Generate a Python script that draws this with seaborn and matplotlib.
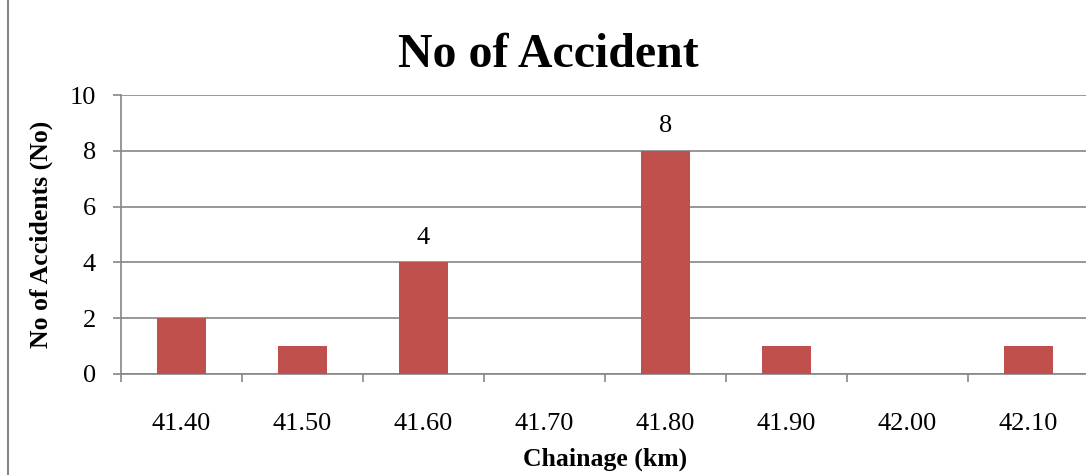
import matplotlib
matplotlib.use("Agg")
import matplotlib.pyplot as plt
from matplotlib.lines import Line2D
import seaborn as sns
import pandas as pd

chainage = ["41.40", "41.50", "41.60", "41.70", "41.80", "41.90", "42.00", "42.10"]
accidents = [2, 1, 4, 0, 8, 1, 0, 1]
labelled = {"41.60": 4, "41.80": 8}
y_ticks = [0, 2, 4, 6, 8, 10]

sns.set_style("white")
plt.rcParams["font.family"] = ["Liberation Serif", "DejaVu Serif"]
plt.rcParams["text.color"] = "black"
plt.rcParams["axes.labelcolor"] = "black"
plt.rcParams["xtick.color"] = "black"
plt.rcParams["ytick.color"] = "black"

df = pd.DataFrame({"Chainage": chainage, "Accidents": accidents})

fig = plt.figure(figsize=(10.86, 4.75), dpi=100)
ax = fig.add_axes([121 / 1086, 101 / 475, 968 / 1086, 279 / 475])

sns.barplot(data=df, x="Chainage", y="Accidents", color="#C0504D",
            width=0.4, saturation=1, linewidth=0, ax=ax, zorder=3)

grid_col = "#868686"
ax.set_ylim(0, 10)
ax.set_xlim(-0.5, len(chainage) - 0.5)
ax.set_yticks(y_ticks)
ax.yaxis.grid(True, color=grid_col, linewidth=1.2, zorder=0)
ax.set_axisbelow(True)

for side in ("top", "right"):
    ax.spines[side].set_visible(False)
for side in ("left", "bottom"):
    ax.spines[side].set_color(grid_col)
    ax.spines[side].set_linewidth(1.2)

# category labels at bar centres, tick marks at category boundaries
ax.set_xticks(range(len(chainage)))
ax.set_xticklabels(chainage)
ax.set_xticks([i - 0.5 for i in range(len(chainage) + 1)], minor=True)
ax.tick_params(axis="x", which="major", length=0, pad=28, labelsize=19,
               labelcolor="black")
ax.tick_params(axis="x", which="minor", length=6, width=1.2, color=grid_col,
               direction="out", bottom=True)
ax.tick_params(axis="y", length=6, width=1.2, color=grid_col, direction="out",
               left=True, pad=12, labelsize=19, labelcolor="black")

for name, val in labelled.items():
    ax.annotate(str(val), (chainage.index(name), val), xytext=(0, 10),
                textcoords="offset points", ha="center", va="bottom",
                fontsize=19)

ax.set_xlabel("Chainage (km)", fontsize=18.5, fontweight="bold", labelpad=9)
ax.set_ylabel("No of Accidents (No)", fontsize=18.5, fontweight="bold", labelpad=12)
fig.text(548 / 1086, 1 - 55 / 475, "No of Accident", ha="center", va="center",
         fontsize=34.5, fontweight="bold")

# chart frame edge on the left
fig.add_artist(Line2D([8 / 1086, 8 / 1086], [0, 1], color=grid_col,
                      linewidth=1.5, transform=fig.transFigure))

fig.savefig("out.png", dpi=100)
